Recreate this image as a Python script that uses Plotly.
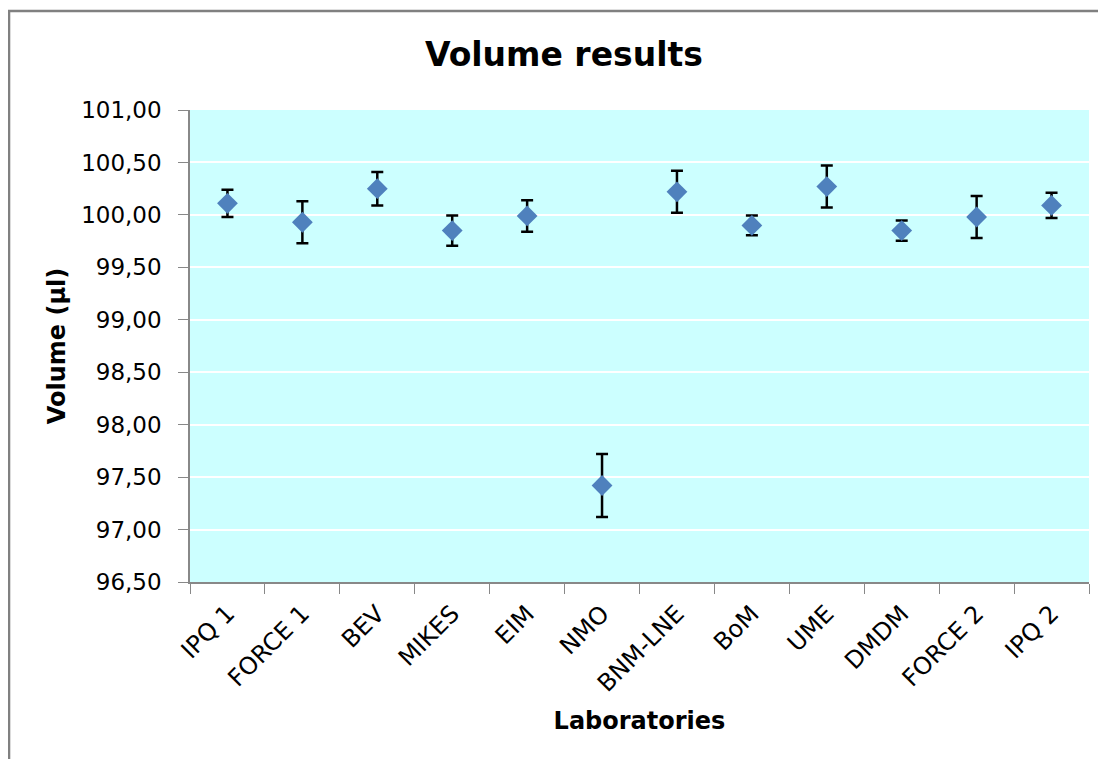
import plotly.graph_objects as go

labs = ["IPQ 1", "FORCE 1", "BEV", "MIKES", "EIM", "NMO", "BNM-LNE", "BoM", "UME", "DMDM", "FORCE 2", "IPQ 2"]
volume = [100.11, 99.93, 100.25, 99.85, 99.99, 97.42, 100.22, 99.90, 100.27, 99.85, 99.98, 100.09]
uncert = [0.13, 0.20, 0.16, 0.145, 0.15, 0.30, 0.20, 0.095, 0.20, 0.097, 0.20, 0.12]
yticks = [96.5, 97.0, 97.5, 98.0, 98.5, 99.0, 99.5, 100.0, 100.5, 101.0]

FONT = "DejaVu Sans"

fig = go.Figure()
fig.add_trace(go.Scatter(
    x=labs, y=volume, mode="markers",
    marker=dict(symbol="diamond", size=16, color="#4F81BD"),
    error_y=dict(type="data", array=uncert, visible=True, color="black", thickness=2.5, width=6),
    showlegend=False,
))

fig.update_layout(
    width=1090, height=751,
    margin=dict(l=182, r=9, t=102, b=177),
    paper_bgcolor="white", plot_bgcolor="#CCFFFF",
    separators=",.",
    title=dict(text="<b>Volume results</b>", x=0.51, xanchor="center", y=0.9387, yanchor="middle",
               font=dict(family=FONT, size=33, color="black")),
    font=dict(family=FONT, color="black"),
    shapes=[dict(type="rect", xref="paper", yref="paper",
                 x0=-0.2013, x1=1.05, y0=-0.5, y1=1.2097,
                 line=dict(color="#808080", width=2.5), fillcolor="rgba(0,0,0,0)", layer="below")],
)
fig.update_yaxes(
    range=[96.5, 101.0], tickvals=yticks, tickformat=".2f",
    showgrid=True, gridcolor="white", gridwidth=2,
    showline=True, linecolor="#888888", linewidth=1.5,
    ticks="outside", ticklen=10, tickcolor="#888888", ticklabelstandoff=12,
    tickfont=dict(family=FONT, size=23), zeroline=False,
    title=dict(text="<b>Volume (µl)</b>", font=dict(family=FONT, size=24), standoff=9),
)
fig.update_xaxes(
    range=[-0.5, len(labs) - 0.5],
    tickangle=-45, tickson="boundaries",
    showline=True, linecolor="#888888", linewidth=2, mirror=False,
    ticks="outside", ticklen=10, tickcolor="#888888", ticklabelstandoff=6,
    tickfont=dict(family=FONT, size=24), showgrid=False,
    title=dict(text="<b>Laboratories</b>", font=dict(family=FONT, size=24), standoff=16),
)

fig.write_html("out.html")
